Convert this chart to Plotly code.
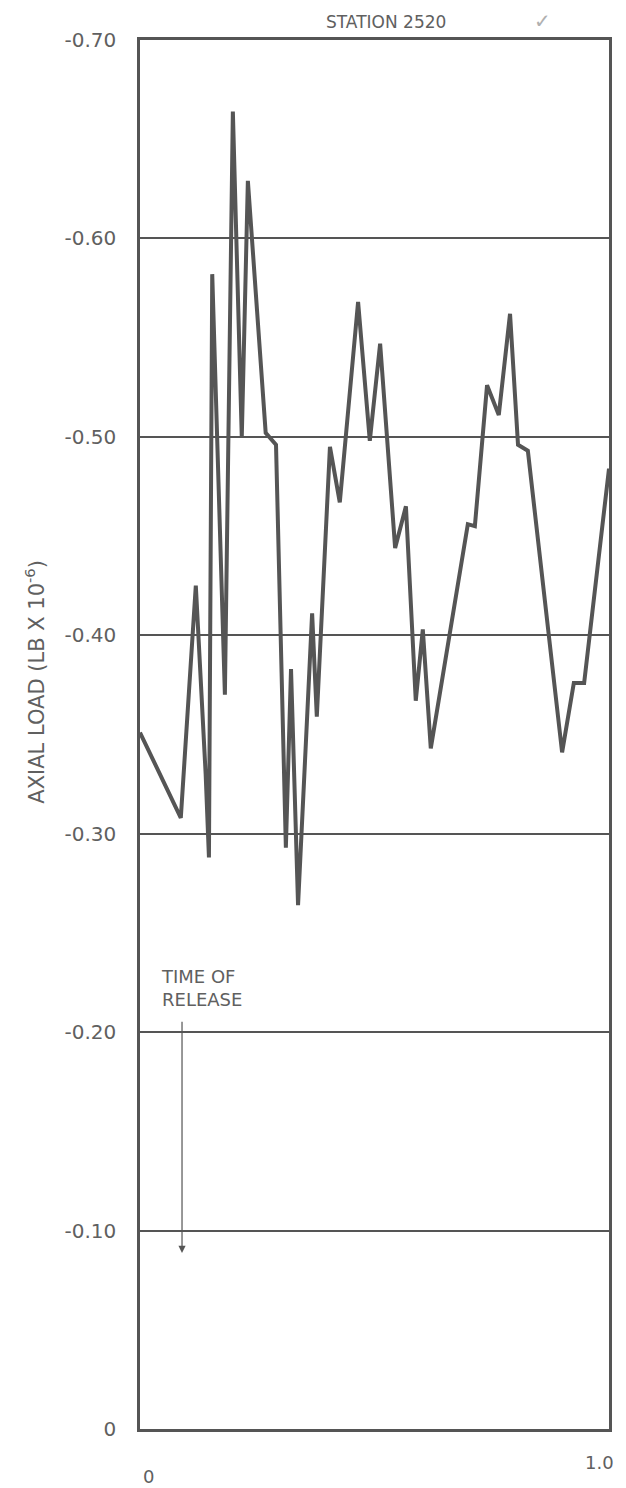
import plotly.graph_objects as go

# Data (time fraction, axial load)
time = [0.000, 0.087, 0.119, 0.140, 0.147, 0.154, 0.181, 0.198, 0.217, 0.230,
        0.268, 0.290, 0.311, 0.322, 0.337, 0.367, 0.377, 0.405, 0.426, 0.465,
        0.490, 0.512, 0.544, 0.567, 0.588, 0.603, 0.620, 0.699, 0.714, 0.740,
        0.765, 0.789, 0.806, 0.827, 0.900, 0.925, 0.947, 1.000]
load = [-0.351, -0.308, -0.425, -0.330, -0.288, -0.582, -0.370, -0.664, -0.500, -0.629,
        -0.502, -0.496, -0.293, -0.383, -0.264, -0.411, -0.359, -0.495, -0.467, -0.568,
        -0.498, -0.547, -0.444, -0.465, -0.367, -0.403, -0.343, -0.456, -0.455, -0.526,
        -0.511, -0.562, -0.496, -0.493, -0.341, -0.376, -0.376, -0.484]

y_ticks = [0, -0.1, -0.2, -0.3, -0.4, -0.5, -0.6, -0.7]
y_tick_labels = ["0", "-0.10", "-0.20", "-0.30", "-0.40", "-0.50", "-0.60", "-0.70"]
release_time = 0.0896
release_arrow_start = -0.206
release_arrow_tip = -0.0887

INK = "#555555"
TXT = "#606060"
FONT = "DejaVu Sans"

fig = go.Figure()
fig.add_trace(go.Scatter(x=time, y=load, mode="lines",
                         line=dict(color=INK, width=4), hoverinfo="skip",
                         showlegend=False))

fig.update_layout(
    width=618, height=1480,
    margin=dict(l=132, r=17, t=32, b=59),
    paper_bgcolor="white", plot_bgcolor="white",
    font=dict(family=FONT, color=TXT, size=18),
    xaxis=dict(range=[0, 1.0], showgrid=False, zeroline=False,
               showticklabels=False, showline=True, linecolor=INK, linewidth=2.5,
               mirror=True),
    yaxis=dict(range=[0, -0.7], tickvals=y_ticks, ticktext=y_tick_labels,
               showgrid=True, gridcolor=INK, gridwidth=1.5, zeroline=False,
               showline=True, linecolor=INK, linewidth=2.5, mirror=True,
               ticks="", ticklabelstandoff=17,
               tickfont=dict(size=20, color=TXT, family=FONT)),
)

# y-axis title
fig.add_annotation(x=0, y=0.538, xref="paper", yref="paper", xshift=-105,
                   text="AXIAL LOAD (LB X 10<sup>-6</sup>)", showarrow=False,
                   textangle=-90, xanchor="center", yanchor="middle",
                   font=dict(size=21, color=TXT, family=FONT))
# title
fig.add_annotation(x=0.525, y=1, xref="paper", yref="paper", yshift=6,
                   text="STATION 2520", showarrow=False, yanchor="bottom",
                   font=dict(size=17, color=TXT, family=FONT))
fig.add_annotation(x=0.864, y=1, xref="paper", yref="paper", yshift=19, xshift=8,
                   text="✓", showarrow=False, yanchor="middle",
                   font=dict(size=20, color="#b0b0b0", family=FONT))
# x-axis end labels
fig.add_annotation(x=0, y=0, xref="x", yref="paper", yshift=-47, xshift=8,
                   text="0", showarrow=False, yanchor="middle",
                   font=dict(size=18, color=TXT, family=FONT))
fig.add_annotation(x=1.0, y=0, xref="x", yref="paper", yshift=-33, xshift=7,
                   text="1.0", showarrow=False, yanchor="middle", xanchor="right",
                   font=dict(size=18, color=TXT, family=FONT))
# time of release
fig.add_annotation(x=0.0405, y=-0.233, xref="x", yref="y", yshift=3,
                   text="TIME OF<br>RELEASE", showarrow=False, yanchor="top",
                   xanchor="left", align="left",
                   font=dict(size=18, color=TXT, family=FONT))
fig.add_annotation(x=release_time, y=release_arrow_tip,
                   ax=release_time, ay=release_arrow_start,
                   xref="x", yref="y", axref="x", ayref="y",
                   text="", showarrow=True, arrowhead=2, arrowsize=1.2,
                   arrowwidth=1.2, arrowcolor=INK)

fig.write_html("out.html")
